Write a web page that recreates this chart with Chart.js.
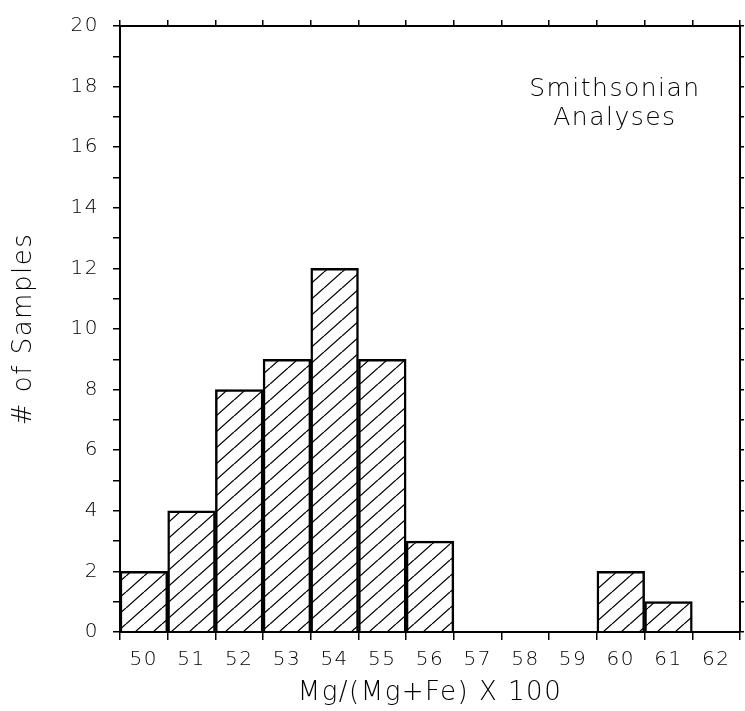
<!DOCTYPE html>
<html>
<head>
<meta charset="utf-8">
<script src="https://cdn.jsdelivr.net/npm/chart.js@4"></script>
<style>
  body { margin: 0; background: #fff; }
  #histo { display: block; }
</style>
</head>
<body>
<canvas id="histo" width="745" height="711"></canvas>
<script>
// bins of Mg/(Mg+Fe) x 100
const binLabels = ["50", "51", "52", "53", "54", "55", "56", "57", "58", "59", "60", "61", "62"];
const sampleCounts = [2, 4, 8, 9, 12, 9, 3, 0, 0, 0, 2, 1, 0];
const noteLines = ["Smithsonian", "Analyses"];

const FONT = "'DejaVu Sans', sans-serif";

function hatch() {
  const w = 18, h = 16;
  const c = document.createElement("canvas");
  c.width = w;
  c.height = h;
  const g = c.getContext("2d");
  g.strokeStyle = "#000";
  g.lineWidth = 1.3;
  g.beginPath();
  for (const k of [-1, 0, 1]) {
    g.moveTo(k * w, h);
    g.lineTo(k * w + w, 0);
  }
  g.stroke();
  return g.createPattern(c, "repeat");
}

// slightly open letter spacing like the original plot lettering
const spacingPlugin = {
  id: "spacing",
  beforeDraw(chart) { chart.ctx.letterSpacing = "1.5px"; },
  afterDraw(chart) { chart.ctx.letterSpacing = "0px"; }
};

// text note in the upper right of the plot
const notePlugin = {
  id: "note",
  afterDatasetsDraw(chart) {
    const ctx = chart.ctx;
    const xs = chart.scales.x, ys = chart.scales.y;
    const cx = (xs.getPixelForValue(10) + xs.getPixelForValue(9)) / 2 + 18;
    ctx.save();
    ctx.font = "300 25px " + FONT;
    ctx.fillStyle = "#000";
    ctx.textAlign = "center";
    ctx.textBaseline = "middle";
    ctx.fillText(noteLines[0], cx, ys.getPixelForValue(17.9));
    ctx.fillText(noteLines[1], cx, ys.getPixelForValue(16.95));
    ctx.restore();
  }
};

const edgeGrid = {
  offset: true,
  drawOnChartArea: false,
  drawTicks: true,
  tickLength: 8,
  color: "#000",
  lineWidth: 1.5
};
const frame = { display: true, color: "#000", width: 2 };

new Chart(document.getElementById("histo"), {
  type: "bar",
  data: {
    labels: binLabels,
    datasets: [{
      data: sampleCounts,
      backgroundColor: hatch(),
      borderColor: "#000",
      borderWidth: 1.8,
      barPercentage: 1,
      categoryPercentage: 1
    }]
  },
  options: {
    responsive: false,
    animation: false,
    layout: { padding: 0 },
    plugins: { legend: { display: false }, tooltip: { enabled: false } },
    scales: {
      x: {
        position: "bottom",
        grid: edgeGrid,
        border: frame,
        ticks: { color: "#000", font: { family: FONT, size: 20, weight: 300 }, padding: 8, maxRotation: 0, autoSkip: false },
        title: { display: true, text: "Mg/(Mg+Fe) X 100", color: "#000", font: { family: FONT, size: 26, weight: 300 }, padding: { top: 2, bottom: 2 } },
        afterFit: s => { s.height = 79; }
      },
      x2: {
        position: "top",
        labels: binLabels,
        grid: Object.assign({}, edgeGrid, { tickLength: 6 }),
        border: frame,
        ticks: { display: false },
        afterFit: s => { s.height = 20; }
      },
      y: {
        position: "left",
        min: 0,
        max: 20,
        grid: { drawOnChartArea: false, tickLength: 7, color: "#000", lineWidth: 1.5 },
        border: frame,
        ticks: {
          stepSize: 1,
          autoSkip: false,
          padding: 14,
          color: "#000",
          font: { family: FONT, size: 20, weight: 300 },
          callback: v => (v % 2 === 0 ? v : "")
        },
        title: { display: true, text: "# of Samples", color: "#000", font: { family: FONT, size: 26, weight: 300 }, padding: { top: 9, bottom: 0 } },
        afterFit: s => { s.width = 120; }
      },
      y2: {
        position: "right",
        min: 0,
        max: 20,
        grid: { drawOnChartArea: false, tickLength: 4, color: "#000", lineWidth: 1.5 },
        border: frame,
        ticks: { stepSize: 1, display: false },
        afterFit: s => { s.width = 5; }
      }
    }
  },
  plugins: [spacingPlugin, notePlugin]
});
</script>
</body>
</html>
